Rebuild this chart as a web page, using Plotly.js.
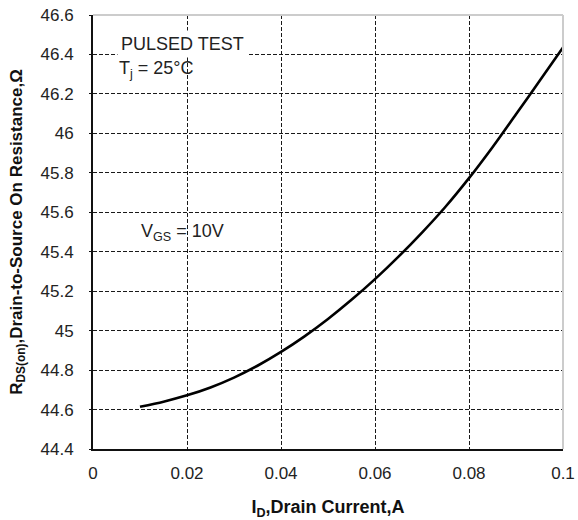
<!DOCTYPE html>
<html>
<head>
<meta charset="utf-8">
<script src="https://cdn.plot.ly/plotly-3.0.1.min.js"></script>
<style>html,body{margin:0;padding:0;background:#fff;}#chart{width:578px;height:520px;}</style>
</head>
<body>
<div id="chart"></div>
<script>
const drainCurrent = [0.01, 0.015, 0.02, 0.025, 0.03, 0.035, 0.04, 0.045, 0.05, 0.055, 0.06, 0.065, 0.07, 0.075, 0.08, 0.085, 0.09, 0.095, 0.1];
const onResistance = [44.614, 44.640, 44.672, 44.712, 44.762, 44.822, 44.892, 44.971, 45.059, 45.156, 45.261, 45.375, 45.497, 45.628, 45.773, 45.930, 46.097, 46.265, 46.435];
const xTickVals = [0, 0.02, 0.04, 0.06, 0.08, 0.1];
const xTickText = ["0", "0.02", "0.04", "0.06", "0.08", "0.1"];
const yTickVals = [44.4, 44.6, 44.8, 45, 45.2, 45.4, 45.6, 45.8, 46, 46.2, 46.4, 46.6];
const yTickText = ["44.4", "44.6", "44.8", "45", "45.2", "45.4", "45.6", "45.8", "46", "46.2", "46.4", "46.6"];

const FONT = "Arial, 'Liberation Sans', sans-serif";

const trace = {
  x: drainCurrent, y: onResistance, type: "scatter", mode: "lines",
  line: {color: "#000", width: 2.6, shape: "spline", smoothing: 0.8}, hoverinfo: "skip"
};

const gridStyle = {gridcolor: "#1a1a1a", griddash: "4px,2px", gridwidth: 1};

const layout = {
  width: 578, height: 520,
  margin: {l: 93, r: 15, t: 15, b: 71},
  paper_bgcolor: "#fff", plot_bgcolor: "#fff",
  showlegend: false,
  font: {family: FONT, color: "#222", size: 17},
  xaxis: Object.assign({
    range: [0, 0.1], tickvals: xTickVals, ticktext: xTickText,
    showline: true, linecolor: "#111", linewidth: 2,
    ticks: "", zeroline: false, tickfont: {size: 17, color: "#222"},
    ticklabelstandoff: 8,
    title: {text: "<b>I<sub>D</sub>,Drain Current,A</b>", font: {size: 18, color: "#111"}, standoff: 22}
  }, gridStyle),
  yaxis: Object.assign({
    range: [44.4, 46.6], tickvals: yTickVals, ticktext: yTickText,
    showline: true, linecolor: "#111", linewidth: 2,
    ticks: "outside", ticklen: 2, tickcolor: "#111", zeroline: false,
    tickfont: {size: 17, color: "#222"},
    ticklabelstandoff: 12,
    title: {text: "<b>R<sub>DS(on)</sub>,Drain-to-Source On Resistance,Ω</b>", font: {size: 17, color: "#111"}, standoff: 14}
  }, gridStyle),
  shapes: [
    {type: "line", xref: "paper", yref: "paper", x0: 0, x1: 1, y0: 1, y1: 1, line: {color: "#ccc", width: 2}},
    {type: "line", xref: "paper", yref: "paper", x0: 1, x1: 1, y0: 0, y1: 1, line: {color: "#ccc", width: 2}}
  ],
  annotations: [
    {xref: "x", yref: "y", x: 0.0052, y: 46.453, xanchor: "left", yanchor: "middle", align: "left",
     text: "PULSED TEST", showarrow: false, bgcolor: "#fff", borderpad: 3,
     font: {size: 18, color: "#222", family: FONT}},
    {xref: "x", yref: "y", x: 0.0052, y: 46.325, xanchor: "left", yanchor: "middle", align: "left",
     text: "T<sub>j</sub> = 25°C", showarrow: false,
     font: {size: 18, color: "#222", family: FONT}},
    {xref: "x", yref: "y", x: 0.0098, y: 45.50, xanchor: "left", yanchor: "middle", align: "left",
     text: "V<sub>GS</sub> = 10V", showarrow: false,
     font: {size: 18, color: "#222", family: FONT}}
  ]
};

Plotly.newPlot("chart", [trace], layout, {staticPlot: true, displayModeBar: false});
</script>
</body>
</html>
